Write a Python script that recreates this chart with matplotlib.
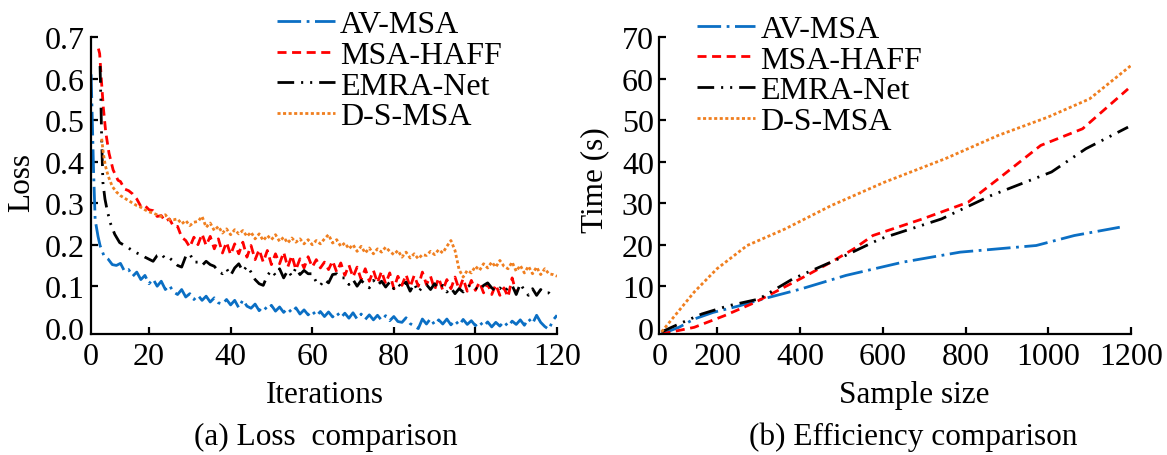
import numpy as np
import matplotlib
matplotlib.use("Agg")
import matplotlib.pyplot as plt

plt.rcParams['font.family'] = ['Liberation Serif', 'DejaVu Serif']
plt.rcParams['font.size'] = 22.5
plt.rcParams['lines.scale_dashes'] = False

labels = ['AV-MSA', 'MSA-HAFF', 'EMRA-Net', 'D-S-MSA']
colors = ['#0b6fc4', '#ff0000', '#000000', '#f07f1f']
dashes = [(17, 4, 2, 4), (6.5, 4), (12, 5, 1.5, 5, 1.5, 5), (2.2, 1.8)]

# (a) loss curves
av_it = [5.8, 6.1, 6.4, 6.8, 7.5] + list(range(8, 121))
av_loss = [0.61, 0.50, 0.38, 0.26, 0.22,
           0.198, 0.172, 0.165, 0.152, 0.150, 0.155, 0.136, 0.140, 0.124, 0.134,
           0.116, 0.126, 0.106, 0.117, 0.100, 0.112, 0.092, 0.102, 0.086, 0.080,
           0.092, 0.074, 0.082, 0.068, 0.078, 0.066, 0.076, 0.062, 0.072, 0.060,
           0.057, 0.068, 0.055, 0.066, 0.048, 0.067, 0.052, 0.047, 0.057, 0.041,
           0.052, 0.043, 0.054, 0.040, 0.050, 0.037, 0.047, 0.036, 0.048, 0.033,
           0.043, 0.031, 0.041, 0.028, 0.039, 0.027, 0.038, 0.026, 0.037, 0.024,
           0.035, 0.023, 0.036, 0.021, 0.033, 0.020, 0.031, 0.019, 0.030, 0.018,
           0.029, 0.017, 0.027, 0.015, 0.013, 0.024, 0.010, 0.004, -0.002, 0.021,
           0.009, 0.022, 0.007, 0.019, 0.009, 0.021, 0.007, 0.018, 0.006, 0.020,
           0.008, 0.017, 0.005, 0.015, 0.003, 0.014, 0.002, 0.013, 0.004, 0.015,
           0.003, 0.016, 0.008, 0.019, 0.006, 0.022, 0.010, 0.030, 0.013, 0.003,
           -0.004, 0.018, 0.030]

haff_it = [7.6, 7.9, 8.3, 8.8, 9.4, 10.2, 11.2, 12.4] + list(range(13, 111))
haff_loss = [0.672, 0.66, 0.60, 0.53, 0.47, 0.42, 0.38, 0.355,
             0.352, 0.334, 0.330, 0.322, 0.310, 0.292, 0.294, 0.284, 0.282, 0.268,
             0.270, 0.256, 0.262, 0.244, 0.244, 0.218, 0.210, 0.194, 0.218, 0.200,
             0.226, 0.198, 0.220, 0.190, 0.214, 0.180, 0.206, 0.176, 0.202, 0.178,
             0.206, 0.170, 0.198, 0.164, 0.188, 0.158, 0.186, 0.152, 0.178, 0.154,
             0.182, 0.146, 0.174, 0.140, 0.166, 0.144, 0.171, 0.146, 0.164, 0.144,
             0.158, 0.140, 0.161, 0.134, 0.156, 0.126, 0.151, 0.122, 0.146, 0.116,
             0.142, 0.112, 0.138, 0.108, 0.136, 0.106, 0.132, 0.094, 0.124, 0.102,
             0.128, 0.098, 0.126, 0.100, 0.134, 0.104, 0.124, 0.092, 0.120, 0.090,
             0.116, 0.094, 0.122, 0.092, 0.118, 0.088, 0.114, 0.090, 0.110, 0.084,
             0.106, 0.080, 0.104, 0.078, 0.096, 0.074, 0.120, 0.084]

emra_it = [8.0, 8.2, 8.4, 8.7, 9.2, 9.8, 10.6, 11.6, 12.8] + list(range(14, 120))
emra_loss = [0.63, 0.55, 0.45, 0.35, 0.31, 0.28, 0.25, 0.225, 0.205,
             0.198, 0.192, 0.185, 0.180, 0.176, 0.170, 0.165, 0.160, 0.174, 0.178,
             0.166, 0.168, 0.160, 0.150, 0.146, 0.172, 0.178, 0.158, 0.158, 0.150,
             0.160, 0.152, 0.148, 0.136, 0.130, 0.142, 0.126, 0.144, 0.154, 0.136,
             0.148, 0.134, 0.116, 0.106, 0.102, 0.126, 0.138, 0.126, 0.142, 0.120,
             0.138, 0.124, 0.144, 0.128, 0.138, 0.130, 0.130, 0.110, 0.102, 0.116,
             0.108, 0.128, 0.130, 0.120, 0.120, 0.104, 0.116, 0.100, 0.114, 0.104,
             0.096, 0.114, 0.102, 0.112, 0.098, 0.110, 0.094, 0.106, 0.096, 0.110,
             0.088, 0.106, 0.086, 0.098, 0.104, 0.092, 0.106, 0.094, 0.102, 0.086,
             0.096, 0.082, 0.094, 0.086, 0.098, 0.104, 0.096, 0.090, 0.102, 0.108,
             0.096, 0.088, 0.096, 0.086, 0.096, 0.102, 0.080, 0.106, 0.090, 0.078,
             0.094, 0.078, 0.092, 0.084, 0.084, 0.074]

ds_it = [8.4, 8.8, 9.3, 10.0, 11.0, 12.0] + list(range(13, 121))
ds_loss = [0.455, 0.42, 0.39, 0.365, 0.34, 0.327,
           0.318, 0.312, 0.306, 0.300, 0.294, 0.290, 0.284, 0.279, 0.276, 0.272,
           0.268, 0.272, 0.260, 0.260, 0.262, 0.250, 0.258, 0.246, 0.254, 0.256,
           0.268, 0.242, 0.252, 0.234, 0.244, 0.228, 0.238, 0.224, 0.236, 0.226,
           0.234, 0.220, 0.230, 0.214, 0.226, 0.210, 0.222, 0.212, 0.224, 0.208,
           0.218, 0.204, 0.216, 0.206, 0.214, 0.202, 0.212, 0.200, 0.210, 0.202,
           0.214, 0.224, 0.204, 0.212, 0.196, 0.204, 0.190, 0.200, 0.184, 0.196,
           0.180, 0.192, 0.178, 0.190, 0.182, 0.194, 0.184, 0.176, 0.186, 0.170,
           0.182, 0.168, 0.178, 0.166, 0.176, 0.174, 0.184, 0.176, 0.188, 0.180,
           0.196, 0.210, 0.186, 0.140, 0.122, 0.138, 0.132, 0.148, 0.138, 0.154,
           0.144, 0.158, 0.146, 0.162, 0.148, 0.142, 0.158, 0.136, 0.150, 0.132,
           0.148, 0.130, 0.146, 0.128, 0.142, 0.130, 0.128, 0.124]

loss_x = [av_it, haff_it, emra_it, ds_it]
loss_y = [av_loss, haff_loss, emra_loss, ds_loss]
iter_ticks = [5.7, 20, 40, 60, 80, 100, 120]
iter_labels = ['0', '20', '40', '60', '80', '100', '120']
loss_ticks = [0.0, 0.1, 0.2, 0.3, 0.4, 0.5, 0.6, 0.7]

# (b) run time
av_n = [65, 107, 144, 190, 254, 309, 401, 511, 649, 787, 971, 1063, 1173]
av_t = [-1.5, 0.1, 2.1, 3.7, 5.3, 6.9, 9.3, 12.6, 15.8, 18.2, 19.8, 22.2, 24.2]
haff_n = [65, 144, 217, 291, 401, 475, 530, 576, 696, 806, 880, 982, 1083, 1193]
haff_t = [-1.5, 0.1, 2.9, 6.1, 11.8, 15.8, 19.0, 22.2, 26.2, 30.2, 35.9, 43.9, 47.9, 57.5]
emra_n = [65, 107, 162, 227, 300, 383, 493, 594, 742, 861, 1008, 1091, 1193]
emra_t = [-1.0, 0.9, 3.3, 5.3, 6.9, 11.8, 16.6, 21.4, 26.2, 31.8, 37.5, 43.1, 48.3]
ds_n = [65, 144, 199, 272, 364, 475, 603, 751, 879, 999, 1100, 1201]
ds_t = [-1.0, 8.6, 14.2, 19.8, 23.8, 29.4, 35.0, 40.7, 46.3, 50.7, 55.1, 63.2]

time_x = [av_n, haff_n, emra_n, ds_n]
time_y = [av_t, haff_t, emra_t, ds_t]
size_ticks = [60, 200, 400, 600, 800, 1000, 1200]
size_labels = ['0', '200', '400', '600', '800', '1000', '1200']
time_ticks = [0, 10, 20, 30, 40, 50, 60, 70]

fig = plt.figure(figsize=(11.67, 4.56), dpi=100)
ax1 = fig.add_axes([0.0777, 0.2654, 0.3996, 0.6513])
ax2 = fig.add_axes([0.5651, 0.2654, 0.404, 0.6513])

for x, y, lab, c, d in zip(loss_x, loss_y, labels, colors, dashes):
    ax1.plot(x, y, color=c, lw=2, dashes=d, label=lab)
for x, y, lab, c, d in zip(time_x, time_y, labels, colors, dashes):
    ax2.plot(x, y, color=c, lw=2, dashes=d, label=lab)

ax1.set_xlim(5.7, 120)
ax1.set_ylim(-0.015, 0.7)
ax1.set_xticks(iter_ticks)
ax1.set_xticklabels(iter_labels)
ax1.set_yticks(loss_ticks)
ax1.set_yticklabels(['%.1f' % v for v in loss_ticks])

ax2.set_xlim(60, 1200)
ax2.set_ylim(-1.5, 70)
ax2.set_xticks(size_ticks)
ax2.set_xticklabels(size_labels)
ax2.set_yticks(time_ticks)

for ax in (ax1, ax2):
    for s in ('top', 'right'):
        ax.spines[s].set_visible(False)
    for s in ('left', 'bottom'):
        ax.spines[s].set_linewidth(1.6)
    ax.tick_params(direction='in', length=5, width=1.6, labelsize=23)
    ax.tick_params(axis='x', pad=6)
    ax.tick_params(axis='y', pad=4)
    ax.xaxis.get_major_ticks()[0].tick1line.set_visible(False)
    ax.yaxis.get_major_ticks()[0].tick1line.set_visible(False)

leg_kw = dict(loc='upper left', frameon=False, fontsize=23, handlelength=1.8,
              handletextpad=0.18, labelspacing=0.04, borderpad=0, borderaxespad=0)
ax1.legend(bbox_to_anchor=(277 / 1167, 0.976), bbox_transform=fig.transFigure, **leg_kw)
ax2.legend(bbox_to_anchor=(697 / 1167, 0.966), bbox_transform=fig.transFigure, **leg_kw)

fig.text(22 / 1167, 1 - 183 / 456, 'Loss', rotation=90, ha='center', va='center')
fig.text(595 / 1167, 1 - 180 / 456, 'Time (s)', rotation=90, ha='center', va='center')
fig.text(325 / 1167, 1 - 396 / 456, 'Iterations', ha='center', va='center')
fig.text(914 / 1167, 1 - 396 / 456, 'Sample size', ha='center', va='center')
fig.text(326 / 1167, 1 - 437 / 456, '(a) Loss  comparison', ha='center', va='center')
fig.text(913 / 1167, 1 - 437 / 456, '(b) Efficiency comparison', ha='center', va='center')

fig.savefig('out.png', dpi=100)
